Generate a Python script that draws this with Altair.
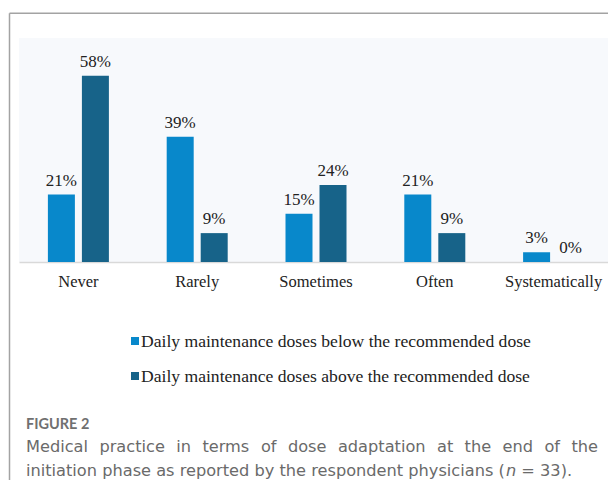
import altair as alt
import pandas as pd

categories = ["Never", "Rarely", "Sometimes", "Often", "Systematically"]
below = [21, 39, 15, 21, 3]
above = [58, 9, 24, 9, 0]
series = [
    "Daily maintenance doses below the recommended dose",
    "Daily maintenance doses above the recommended dose",
]
colors = ["#0888CB", "#176389"]
fig_label = "FIGURE 2"
caption_line1 = "Medical practice in terms of dose adaptation at the end of the"
caption_line2 = ["initiation phase as reported by the respondent physicians (", "n", " = 33)."]

rows = []
for c, b, a in zip(categories, below, above):
    rows.append({"category": c, "series": series[0], "value": b, "label": f"{b}%"})
    rows.append({"category": c, "series": series[1], "value": a, "label": f"{a}%"})
df = pd.DataFrame(rows)
legend_df = pd.DataFrame({"series": series})

W, H = 589, 224
SERIF = "Liberation Serif"
CAPFONT = "DejaVu Sans"
CAPSIZE = 16.2

# approximate DejaVu Sans advance widths (units per 2048 em) for text layout
ADV = {" ": 651, ".": 651, "(": 799, ")": 799, "=": 1716, "M": 1767,
       "a": 1255, "b": 1300, "c": 1126, "d": 1300, "e": 1260, "f": 721, "g": 1300,
       "h": 1298, "i": 569, "j": 569, "k": 1186, "l": 569, "m": 1995, "n": 1298,
       "o": 1253, "p": 1300, "q": 1300, "r": 842, "s": 1067, "t": 803, "u": 1298,
       "v": 1212, "w": 1675, "x": 1212, "y": 1212, "z": 1075}


def tw(s, size=CAPSIZE):
    return sum(ADV.get(ch, 1303) for ch in s) * size / 2048


x = alt.X(
    "category:N",
    sort=categories,
    scale=alt.Scale(paddingInner=0.4865, paddingOuter=0.24325, range=[0, 594]),
    axis=alt.Axis(
        title=None,
        labelAngle=0,
        labelFont=SERIF,
        labelFontSize=16.5,
        labelColor="#222222",
        ticks=False,
        labelPadding=11,
        domainColor="#d9d9d9",
        domainWidth=1.5,
        grid=False,
    ),
)
xo = alt.XOffset("series:N", sort=series, scale=alt.Scale(paddingInner=0.206))
y = alt.Y("value:Q", scale=alt.Scale(domain=[0, 69.8], nice=False), axis=None)
color = alt.Color(
    "series:N",
    sort=series,
    scale=alt.Scale(domain=series, range=colors),
    legend=None,
)

base = alt.Chart(df)
bars = base.mark_bar().encode(x=x, xOffset=xo, y=y, color=color)
labels = base.mark_text(
    font=SERIF, fontSize=17, color="#222222", baseline="alphabetic", dy=-9
).encode(x=x, xOffset=xo, y=y, text="label:N")

# legend entries (square + label), one row per series
legend_layers = []
for i, (sq_y, tx_y) in enumerate([(303, 309), (338, 344)]):
    src = alt.Chart(legend_df).transform_filter(alt.datum.series == series[i])
    legend_layers.append(
        src.mark_square(size=64, opacity=1, strokeWidth=0).encode(
            x=alt.value(116), y=alt.value(sq_y), color=color
        )
    )
    legend_layers.append(
        src.mark_text(
            font=SERIF, fontSize=17.6, color="#222222", align="left", baseline="alphabetic"
        ).encode(x=alt.value(122), y=alt.value(tx_y), text="series:N")
    )

one = pd.DataFrame({"k": [0]})
left_border = alt.Chart(one).mark_rule(color="#a3a3a3", strokeWidth=1.5).encode(
    x=alt.value(-9.5), y=alt.value(-24.7), y2=alt.value(460)
)
top_border = alt.Chart(one).mark_rule(color="#a3a3a3", strokeWidth=1.5).encode(
    x=alt.value(-9.5), x2=alt.value(600), y=alt.value(-24.7)
)

fig_text = alt.Chart(pd.DataFrame({"t": [fig_label]})).mark_text(
    font="Lato", fontSize=14.5, fontWeight="bold", color="#707070",
    align="left", baseline="alphabetic",
).encode(x=alt.value(7), y=alt.value(391), text="t:N")

# justified first caption line: words spread from x=7 to x=579 (plot coords)
words = caption_line1.split(" ")
left, right = 7, 579
natural = sum(tw(w) for w in words)
gap = (right - left - natural) / (len(words) - 1)
word_layers = []
pos = left
for w in words:
    word_layers.append(
        alt.Chart(pd.DataFrame({"t": [w]})).mark_text(
            font=CAPFONT, fontSize=CAPSIZE, color="#6a6a6a", align="left",
            baseline="alphabetic",
        ).encode(x=alt.value(pos), y=alt.value(414), text="t:N")
    )
    pos += tw(w) + gap

# second caption line with italic "n" (leading spaces are skipped as offsets)
line2_layers = []
pos = 7
for i, part in enumerate(caption_line2):
    lead = len(part) - len(part.lstrip(" "))
    pos += tw(" " * lead)
    body = part.lstrip(" ")
    line2_layers.append(
        alt.Chart(pd.DataFrame({"t": [body]})).mark_text(
            font=CAPFONT, fontSize=CAPSIZE, color="#6a6a6a", align="left",
            baseline="alphabetic", fontStyle="italic" if i == 1 else "normal",
        ).encode(x=alt.value(pos), y=alt.value(438), text="t:N")
    )
    pos += tw(body)

chart = (
    alt.layer(bars, labels, *legend_layers, left_border, top_border, fig_text,
              *word_layers, *line2_layers)
    .properties(
        width=W,
        height=H,
        padding={"left": 11, "top": 30, "right": 0, "bottom": 218},
        autosize=alt.AutoSizeParams(type="none"),
        background="white",
    )
    .configure_view(fill="#f7f9fc", strokeWidth=0)
)

chart.save("out.html", embed_options={"renderer": "svg", "actions": False})
